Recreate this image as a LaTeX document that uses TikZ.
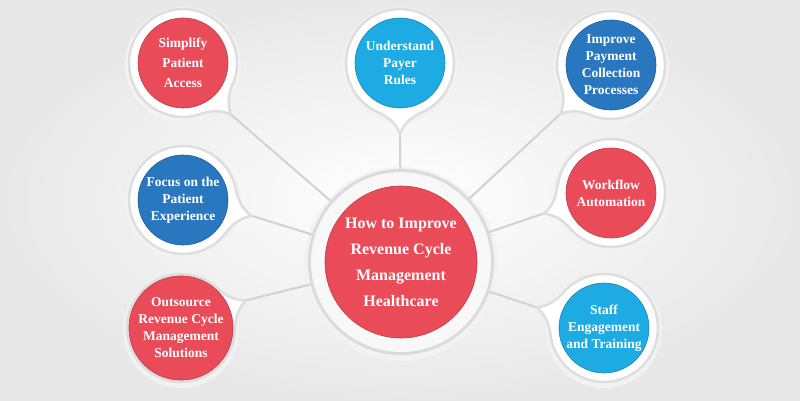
\documentclass[tikz,border=0pt]{standalone}
\usepackage{fontspec}
\setmainfont{Liberation Serif}
\usetikzlibrary{calc}
\definecolor{rcmred}{HTML}{E94B58}
\definecolor{rcmcyan}{HTML}{1EAAE2}
\definecolor{rcmblue}{HTML}{2977BF}
\definecolor{rcmline}{HTML}{D2D2D2}

\begin{document}
\begin{tikzpicture}[x=1pt,y=1pt,
  link/.style={draw=rcmline,line width=2pt},
  spot/.style={circle,minimum size=90pt,inner sep=0pt,align=center,text=white,
    font=\bfseries\fontsize{13.5}{17}\selectfont},
  hub/.style={circle,minimum size=152pt,inner sep=0pt,align=center,text=white,
    fill=rcmred,draw=rcmred!80!black,line width=0.6pt,
    font=\bfseries\fontsize{16}{26}\selectfont}]
  \shade[inner color=white,outer color=black!9] (0,0) rectangle (800,400);
  \useasboundingbox (0,0) rectangle (800,400);
  % centre
  \fill[black!5] (401,136) circle (97);
  \node[circle,minimum size=186pt,inner sep=0pt,fill=black!14] (core) at (401,138) {};
  \shade[inner color=white,outer color=black!3] (core.center) circle (90);
  \node[hub] (topic) at (core) {How to Improve\\Revenue Cycle\\Management\\Healthcare};
  % satellites
  \foreach \n/\x/\y/\a/\c/\t in {
      simp/183/337/-47/rcmred/{Simplify\\[3pt]Patient\\[3pt]Access},
      payer/400/337/-90/rcmcyan/{Understand\\Payer\\Rules},
      pay/611/335/-136/rcmblue/{Improve\\Payment\\Collection\\Processes},
      focus/183/200/-13/rcmblue/{Focus on the\\Patient\\Experience},
      work/611/207/-163/rcmred/{Workflow\\Automation},
      out/181/72/23/rcmred/{Outsource\\Revenue Cycle\\Management\\Solutions},
      staff/604/72/163/rcmcyan/{Staff\\Engagement\\and Training}} {
    \fill[black!5] (\x,\y-2) circle (58);
    \begin{scope}[shift={(\x,\y)},rotate=\a]
      \filldraw[fill=white,draw=black!13,line width=2.5pt,line join=round]
        (-22:54) .. controls (-8:57) and (-4:62) .. (70,0)
        .. controls (4:62) and (8:57) .. (22:54) arc (22:338:54) -- cycle;
      \coordinate (\n-tip) at (71,0);
    \end{scope}
    \node[spot,fill=\c,draw=\c!80!black,line width=0.6pt] (\n) at (\x,\y) {\t};
    \draw[link] (\n-tip) -- (core);
  }
\end{tikzpicture}
\end{document}
